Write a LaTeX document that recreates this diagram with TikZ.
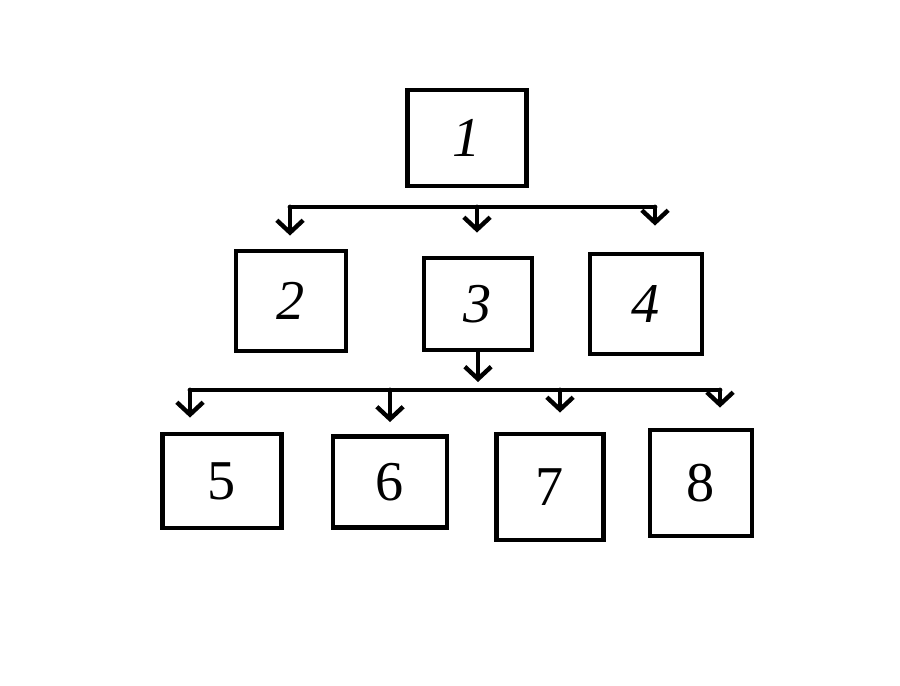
\documentclass[tikz,border=0pt]{standalone}
\usepackage{fontspec}
\usepackage{tikz}
\usetikzlibrary{arrows.meta}
\newfontfamily\digitfont{Liberation Serif}
\tikzset{
  box/.style={draw, line width=2.8pt, inner sep=0pt, font=\digitfont\fontsize{32}{32}\selectfont},
  bus/.style={line width=2.8pt, line cap=round, line join=round},
  arr/.style={line width=2.8pt, line cap=round, -{Straight Barb[length=7pt,width=15pt,line width=2.5pt]}},
}

\begin{document}
\begin{tikzpicture}[x=0.02cm,y=-0.02cm]
			%%%%% START %%%%%
			\useasboundingbox (0,0) rectangle (900,686);
			
			% first level
			\node[box, minimum width=2.38cm, minimum height=1.92cm] (b1) at (467,138) {\itshape 1};
			
			% second level
			\node[box, minimum width=2.2cm, minimum height=2.0cm] (b2) at (291,301) {\itshape 2};
			\node[box, minimum width=2.16cm, minimum height=1.84cm] (b3) at (478,304) {\itshape 3};
			\node[box, minimum width=2.24cm, minimum height=2.0cm] (b4) at (646,304) {\itshape 4};
			
			% third level
			\node[box, minimum width=2.38cm, minimum height=1.88cm] (b5) at (222,481) {5};
			\node[box, minimum width=2.28cm, minimum height=1.82cm] (b6) at (390,482) {6};
			\node[box, minimum width=2.14cm, minimum height=2.12cm] (b7) at (550,487) {7};
			\node[box, minimum width=2.04cm, minimum height=2.12cm] (b8) at (701,483) {8};
			
			% upper bus
			\coordinate (u2) at (290,207);
			\coordinate (u3) at (477,207);
			\coordinate (u4) at (655,207);
			\draw[bus] (u2) -- (u4);
			\draw[arr, shorten >=0.26cm] (u2) -- (u2 |- b2.north);
			\draw[arr, shorten >=0.46cm] (u3) -- (u3 |- b3.north);
			\draw[arr, shorten >=0.52cm] (u4) -- (u4 |- b4.north);
			
			% lower bus
			\coordinate (s) at (b3.south |- 0,390);
			\coordinate (l5) at (190,390);
			\coordinate (l6) at (390,390);
			\coordinate (l7) at (560,390);
			\coordinate (l8) at (720,390);
			\draw[bus] (l5) -- (l8);
			\draw[arr, shorten >=0.16cm] (b3.south) -- (s);
			\draw[arr, shorten >=0.28cm] (l5) -- (l5 |- b5.north);
			\draw[arr, shorten >=0.24cm] (l6) -- (l6 |- b6.north);
			\draw[arr, shorten >=0.38cm] (l7) -- (l7 |- b7.north);
			\draw[arr, shorten >=0.40cm] (l8) -- (l8 |- b8.north);
			
			%%%%% END %%%%%
\end{tikzpicture}
\end{document}
